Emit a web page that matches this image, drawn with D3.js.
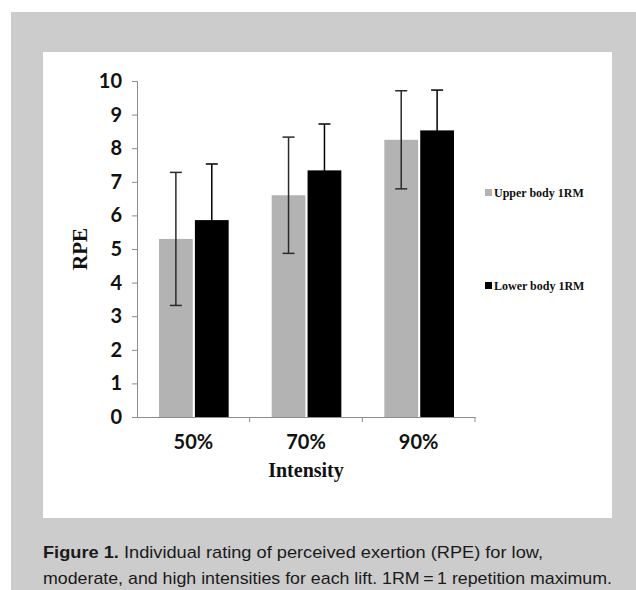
<!DOCTYPE html>
<html>
<head>
<meta charset="utf-8">
<script src="https://cdn.jsdelivr.net/npm/d3@7"></script>
<style>
  body { margin: 0; background: #fff; }
</style>
</head>
<body>
<div id="chart"></div>
<script>
// Chart data
var intensities = ["50%", "70%", "90%"];
var seriesNames = ["Upper body 1RM", "Lower body 1RM"];
var upperMean = [5.3, 6.6, 8.25];
var upperSD = [1.98, 1.73, 1.46];
var lowerMean = [5.86, 7.34, 8.53];
var lowerSD = [1.67, 1.38, 1.2];
var yTicks = [0, 1, 2, 3, 4, 5, 6, 7, 8, 9, 10];
var seriesColors = ["#b3b3b3", "#000000"];

var W = 636, H = 590;

var svg = d3.select("#chart").append("svg")
    .attr("width", W)
    .attr("height", H);

// gray frame and white panel
svg.append("rect").attr("x", 11).attr("y", 12).attr("width", W - 11).attr("height", H - 12).attr("fill", "#cccccc");
svg.append("rect").attr("x", 43).attr("y", 52).attr("width", 569).attr("height", 466).attr("fill", "#ffffff");

// plot area
var margin = {left: 137, top: 81, right: 475, bottom: 417};

var x = d3.scaleBand()
    .domain(intensities)
    .range([margin.left, margin.right]);

var xSub = d3.scaleBand()
    .domain(seriesNames)
    .range([22, x.bandwidth() - 21])
    .paddingInner(0.06);

var y = d3.scaleLinear()
    .domain([0, 10])
    .range([margin.bottom, margin.top]);

// Y axis
var yAxis = svg.append("g")
    .attr("transform", "translate(" + margin.left + ",0)")
    .call(d3.axisLeft(y).tickValues(yTicks).tickSize(5).tickPadding(10));
yAxis.select(".domain").attr("stroke", "#8c8c8c");
yAxis.selectAll(".tick line").attr("stroke", "#8c8c8c");
yAxis.selectAll("text")
  .attr("font-family", "Lato, 'Open Sans', sans-serif")
  .attr("font-weight", "bold")
  .attr("font-size", "20px")
  .attr("fill", "#111");

// X axis
var xAxis = svg.append("g")
    .attr("transform", "translate(0," + margin.bottom + ")")
    .call(d3.axisBottom(x).tickSize(0).tickPadding(18));
xAxis.select(".domain").attr("stroke", "#8c8c8c");
xAxis.selectAll("text")
  .attr("font-family", "Lato, 'Open Sans', sans-serif")
  .attr("font-weight", "bold")
  .attr("font-size", "20px")
  .attr("fill", "#111");

// boundary ticks between categories
svg.append("g").selectAll("line")
  .data(intensities)
  .enter().append("line")
    .attr("x1", function(d) { return x(d) + x.bandwidth(); })
    .attr("x2", function(d) { return x(d) + x.bandwidth(); })
    .attr("y1", margin.bottom)
    .attr("y2", margin.bottom + 5)
    .attr("stroke", "#8c8c8c");

// build rows
var rows = [];
intensities.forEach(function(c, i) {
  rows.push({cat: c, series: seriesNames[0], mean: upperMean[i], sd: upperSD[i], color: seriesColors[0]});
  rows.push({cat: c, series: seriesNames[1], mean: lowerMean[i], sd: lowerSD[i], color: seriesColors[1]});
});

// Bars
svg.append("g").selectAll("rect")
  .data(rows)
  .enter().append("rect")
    .attr("x", function(d) { return x(d.cat) + xSub(d.series); })
    .attr("y", function(d) { return y(d.mean); })
    .attr("width", xSub.bandwidth())
    .attr("height", function(d) { return y(0) - y(d.mean); })
    .attr("fill", function(d) { return d.color; });

// Error bars (dark lines, lost inside the black bars like the original)
var capHalf = 6;
var err = svg.append("g").attr("stroke-width", 1.5);
rows.forEach(function(d) {
  var cx = x(d.cat) + xSub(d.series) + xSub.bandwidth() / 2;
  var col = d.color === "#000000" ? "#000" : "#2a2a2a";
  err.append("line").attr("x1", cx).attr("x2", cx).attr("stroke", col)
    .attr("y1", y(d.mean + d.sd)).attr("y2", y(d.mean - d.sd));
  err.append("line").attr("x1", cx - capHalf).attr("x2", cx + capHalf).attr("stroke", col)
    .attr("y1", y(d.mean + d.sd)).attr("y2", y(d.mean + d.sd));
  err.append("line").attr("x1", cx - capHalf).attr("x2", cx + capHalf).attr("stroke", col)
    .attr("y1", y(d.mean - d.sd)).attr("y2", y(d.mean - d.sd));
});

// Axis titles
svg.append("text")
  .attr("transform", "translate(87,249) rotate(-90)")
  .attr("text-anchor", "middle")
  .attr("font-family", "'Liberation Serif', serif")
  .attr("font-weight", "bold")
  .attr("font-size", "21px")
  .attr("fill", "#111")
  .text("RPE");

svg.append("text")
  .attr("x", (margin.left + margin.right) / 2)
  .attr("y", 477)
  .attr("text-anchor", "middle")
  .attr("font-family", "'Liberation Serif', serif")
  .attr("font-weight", "bold")
  .attr("font-size", "20px")
  .attr("fill", "#111")
  .text("Intensity");

// Legend
var legendY = [193, 286];
var legend = svg.append("g").selectAll("g")
  .data(seriesNames)
  .enter().append("g")
    .attr("transform", function(d, i) { return "translate(485," + legendY[i] + ")"; });
legend.append("rect")
  .attr("x", 0).attr("y", -4)
  .attr("width", 7).attr("height", 7)
  .attr("fill", function(d, i) { return seriesColors[i]; });
legend.append("text")
  .attr("x", 9).attr("y", 4)
  .attr("font-family", "'Liberation Serif', serif")
  .attr("font-weight", "bold")
  .attr("font-size", "12px")
  .attr("fill", "#111")
  .text(function(d) { return d; });

// Caption
var cap1 = svg.append("text")
  .attr("x", 43).attr("y", 558)
  .attr("font-family", "'Liberation Sans', Arial, sans-serif")
  .attr("font-size", "17px")
  .attr("fill", "#1a1a1a")
  .attr("textLength", 500)
  .attr("lengthAdjust", "spacingAndGlyphs");
cap1.append("tspan").attr("font-weight", "bold").text("Figure 1.");
cap1.append("tspan").text(" Individual rating of perceived exertion (RPE) for low,");

svg.append("text")
  .attr("x", 43).attr("y", 584)
  .attr("font-family", "'Liberation Sans', Arial, sans-serif")
  .attr("font-size", "17px")
  .attr("fill", "#1a1a1a")
  .attr("textLength", 569)
  .attr("lengthAdjust", "spacingAndGlyphs")
  .text("moderate, and high intensities for each lift. 1RM\u2009=\u20091 repetition maximum.");
</script>
</body>
</html>
